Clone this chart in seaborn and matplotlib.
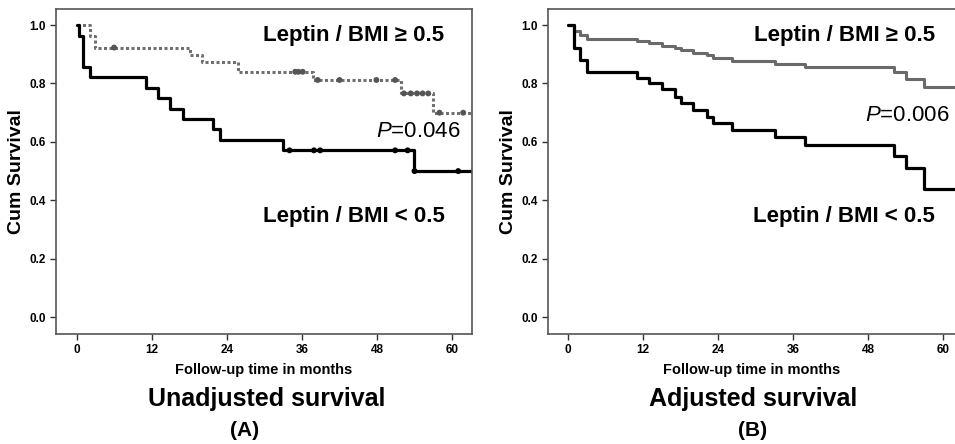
import numpy as np
import pandas as pd
import seaborn as sns
import matplotlib
matplotlib.use("Agg")
import matplotlib.pyplot as plt

# ---- data (months, cumulative survival) ----
# Panel A: unadjusted Kaplan-Meier
a_hi_time = [0, 2.0, 2.9, 18.1, 20.0, 25.8, 37.8, 51.8, 57.0, 63.2]
a_hi_surv = [1.0, 0.962, 0.923, 0.897, 0.872, 0.840, 0.812, 0.766, 0.700, 0.700]
a_hi_censor = [5.9, 34.9, 35.4, 36.1, 38.5, 42.0, 47.9, 50.9, 52.3, 53.4,
               54.4, 55.3, 56.2, 58.0, 61.8]

a_lo_time = [0, 0.3, 0.9, 2.0, 11.0, 13.0, 14.9, 16.9, 21.8, 22.9, 32.9, 53.9, 63.2]
a_lo_surv = [1.0, 0.964, 0.857, 0.821, 0.786, 0.750, 0.714, 0.679, 0.643,
             0.607, 0.571, 0.500, 0.500]
a_lo_censor = [34.0, 37.9, 38.9, 50.9, 52.9, 54.0, 61.0]

# Panel B: adjusted survival
b_time = [0, 1.0, 2.0, 3.0, 11.1, 13.0, 15.0, 17.1, 18.0, 20.0, 22.2, 23.2,
          26.2, 33.1, 37.9, 52.1, 54.0, 57.0, 62.5]
b_hi_surv = [1.0, 0.979, 0.966, 0.952, 0.945, 0.937, 0.929, 0.920, 0.913,
             0.905, 0.897, 0.888, 0.878, 0.866, 0.857, 0.838, 0.814, 0.787, 0.787]
b_lo_surv = [1.0, 0.920, 0.880, 0.838, 0.820, 0.800, 0.781, 0.754, 0.732,
             0.709, 0.686, 0.663, 0.640, 0.615, 0.589, 0.551, 0.509, 0.440, 0.440]

x_ticks = [0, 12, 24, 36, 48, 60]
y_ticks = [0.0, 0.2, 0.4, 0.6, 0.8, 1.0]
label_hi = "Leptin / BMI \u2265 0.5"
label_lo = "Leptin / BMI < 0.5"

sns.set_theme(style="white")
plt.rcParams["font.family"] = ["Liberation Sans", "DejaVu Sans"]
plt.rcParams["mathtext.fontset"] = "custom"
plt.rcParams["mathtext.it"] = "Liberation Sans:italic"
plt.rcParams["mathtext.rm"] = "Liberation Sans"
plt.rcParams["text.color"] = "black"
plt.rcParams["axes.labelcolor"] = "black"
plt.rcParams["xtick.color"] = "black"
plt.rcParams["ytick.color"] = "black"


def surv_at(times, surv, t):
    idx = np.searchsorted(times, t, side="right") - 1
    return np.asarray(surv)[idx]


def style_axes(ax, xlim):
    ax.set_xlim(*xlim)
    ax.set_ylim(-0.058, 1.055)
    ax.set_xticks(x_ticks)
    ax.set_yticks(y_ticks)
    ax.set_yticklabels([f"{v:.1f}" for v in y_ticks])
    ax.tick_params(axis="both", direction="out", length=4, width=1,
                   color="#333333", labelcolor="black", labelsize=8.5,
                   bottom=True, left=True)
    for lab in ax.get_xticklabels() + ax.get_yticklabels():
        lab.set_fontweight("bold")
    for sp in ax.spines.values():
        sp.set_color("#555555")
        sp.set_linewidth(1.2)
    ax.set_xlabel("Follow-up time in months", fontsize=10.5, fontweight="bold",
                  va="center")
    ax.set_ylabel("Cum Survival", fontsize=14, fontweight="bold", va="center")


fig = plt.figure(figsize=(9.55, 4.44), dpi=100)
ax_a = fig.add_axes([0.0586, 0.2477, 0.4356, 0.732])
ax_b = fig.add_axes([0.5738, 0.2477, 0.4262, 0.732])

# ---- panel A ----
df_a_hi = pd.DataFrame({"t": a_hi_time, "s": a_hi_surv})
df_a_lo = pd.DataFrame({"t": a_lo_time, "s": a_lo_surv})
sns.lineplot(data=df_a_hi, x="t", y="s", ax=ax_a, estimator=None,
             drawstyle="steps-post", color="#707070", lw=2.2,
             linestyle=(0, (1, 0.8)))
sns.lineplot(data=df_a_lo, x="t", y="s", ax=ax_a, estimator=None,
             drawstyle="steps-post", color="black", lw=2.3)
sns.scatterplot(x=a_hi_censor, y=surv_at(a_hi_time, a_hi_surv, a_hi_censor),
                ax=ax_a, color="#555555", s=18, edgecolor="none", zorder=3)
sns.scatterplot(x=a_lo_censor, y=surv_at(a_lo_time, a_lo_surv, a_lo_censor),
                ax=ax_a, color="black", s=18, edgecolor="none", zorder=3)
style_axes(ax_a, (-3.4, 63.2))
ax_a.xaxis.set_label_coords(0.5, -0.111)
ax_a.yaxis.set_label_coords(-0.094, 0.5)
ax_a.text(44.3, 0.966, label_hi, fontsize=16, fontweight="bold",
          ha="center", va="center")
ax_a.text(44.3, 0.343, label_lo, fontsize=16, fontweight="bold",
          ha="center", va="center")
ax_a.text(54.6, 0.635, r"$\mathit{P}$=0.046", fontsize=16,
          ha="center", va="center")

# ---- panel B ----
df_b = pd.DataFrame({"t": b_time, "hi": b_hi_surv, "lo": b_lo_surv})
sns.lineplot(data=df_b, x="t", y="hi", ax=ax_b, estimator=None,
             drawstyle="steps-post", color="#6a6a6a", lw=2.2)
sns.lineplot(data=df_b, x="t", y="lo", ax=ax_b, estimator=None,
             drawstyle="steps-post", color="black", lw=2.3)
style_axes(ax_b, (-3.2, 61.9))
ax_b.spines["right"].set_visible(False)
ax_b.xaxis.set_label_coords(0.5, -0.111)
ax_b.yaxis.set_label_coords(-0.096, 0.5)
ax_b.text(44.2, 0.966, label_hi, fontsize=16, fontweight="bold",
          ha="center", va="center")
ax_b.text(44.2, 0.343, label_lo, fontsize=16, fontweight="bold",
          ha="center", va="center")
ax_b.text(54.2, 0.692, r"$\mathit{P}$=0.006", fontsize=16,
          ha="center", va="center")

# ---- panel captions ----
fig.text(0.2796, 0.101, "Unadjusted survival", fontsize=18, fontweight="bold",
         ha="center", va="center")
fig.text(0.789, 0.101, "Adjusted survival", fontsize=18, fontweight="bold",
         ha="center", va="center")
fig.text(0.2565, 0.0315, "(A)", fontsize=15, fontweight="bold",
         ha="center", va="center")
fig.text(0.788, 0.0315, "(B)", fontsize=15, fontweight="bold",
         ha="center", va="center")

fig.savefig("out.png", dpi=100, facecolor="white")
